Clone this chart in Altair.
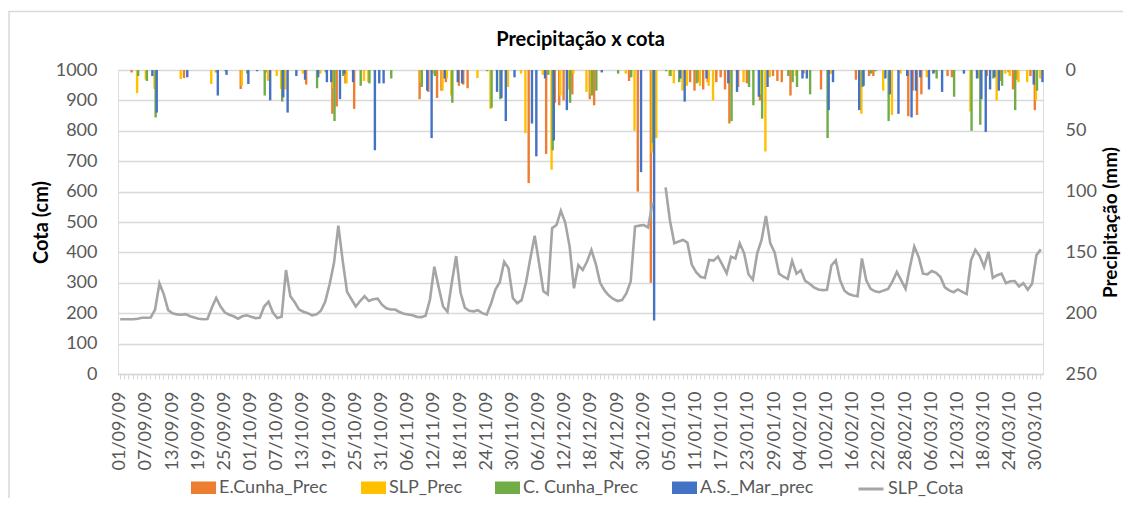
import json
import altair as alt
import pandas as pd

# ---- categories -------------------------------------------------------------
dates = [d.strftime("%d/%m/%y") for d in pd.date_range("2009-09-01", "2010-03-31", freq="D")]
label_dates = dates[::6]

series_names = ["E.Cunha_Prec", "SLP_Prec", "C. Cunha_Prec", "A.S._Mar_prec"]
series_colors = ["#ED7D31", "#FFC000", "#70AD47", "#4472C4"]
line_name = "SLP_Cota"

# ---- precipitation (mm), keyed by day index (0 = 01/09/09); other days 0 ----
e_cunha_prec = {3: 2, 15: 6.6, 28: 15.6, 34: 2, 43: 12, 49: 36, 50: 30, 52: 11, 54: 32,
                69: 24, 71: 18, 73: 23, 74: 17, 75: 10, 78: 13, 79: 12, 80: 15, 94: 93,
                98: 69, 100: 27, 101: 29, 102: 25, 104: 20, 108: 24, 109: 29, 117: 9,
                119: 100, 122: 175, 131: 10, 132: 17, 133: 10, 134: 16, 135: 10, 137: 10,
                138: 6, 139: 16, 140: 44, 142: 14, 144: 11, 147: 25, 150: 5, 151: 9,
                152: 10, 154: 21, 157: 3, 161: 16, 163: 3, 169: 8, 172: 5, 173: 5,
                181: 38, 182: 17, 183: 37, 184: 20, 187: 2, 190: 5, 191: 6, 199: 5,
                202: 9, 204: 2, 205: 16, 206: 8, 209: 5, 210: 33}
slp_prec = {4: 19, 6: 8, 8: 15.6, 14: 7.4, 21: 11.5, 22: 2, 28: 13, 34: 9, 36: 5, 37: 15.6,
            38: 16, 42: 3, 46: 3, 49: 15, 52: 11, 56: 9, 57: 10, 69: 10, 72: 3, 74: 17,
            75: 7, 76: 21, 82: 6.6, 85: 32, 89: 14, 92: 3, 93: 52, 97: 4, 99: 82, 101: 21,
            103: 16, 104: 3, 107: 18, 108: 20, 116: 3, 118: 50, 122: 68, 123: 56, 126: 5,
            127: 11, 129: 17, 130: 13, 133: 13, 135: 13, 136: 25, 143: 10, 147: 20,
            148: 67, 149: 6, 155: 5, 163: 3, 170: 36, 175: 17, 177: 37, 179: 3, 185: 6,
            195: 34, 197: 7, 201: 25, 203: 3, 204: 5, 206: 10, 208: 10, 210: 25, 211: 7}
c_cunha_prec = {4: 5, 6: 9, 8: 39, 22: 2, 24: 1, 29: 3, 33: 21, 37: 26, 45: 15, 47: 2,
                49: 42, 51: 5, 55: 13, 57: 11, 62: 7, 69: 14, 72: 5, 76: 27, 84: 1, 85: 31,
                87: 24, 98: 4, 99: 66, 103: 27, 108: 21, 109: 17, 114: 3, 117: 6, 122: 60,
                125: 1, 126: 5, 128: 10, 132: 11, 140: 42, 144: 14, 145: 29, 147: 40,
                153: 5, 154: 10, 155: 14, 158: 20, 162: 56, 170: 14, 172: 3, 173: 1,
                176: 42, 187: 7, 191: 22, 195: 50, 197: 45, 200: 7, 202: 13, 205: 33,
                210: 17}
as_mar_prec = {7: 5, 8: 35, 15: 6, 22: 21, 24: 4, 29: 11.5, 31: 1, 34: 25, 37: 22.5, 38: 35,
               40: 5, 42: 8, 45: 6, 47: 10, 48: 10, 50: 24, 51: 3, 53: 10, 58: 66, 59: 11,
               60: 11, 70: 17, 71: 56, 74: 7, 77: 10, 78: 11, 86: 18, 87: 23, 88: 42,
               90: 6, 94: 44, 95: 71, 97: 7, 99: 58, 102: 33, 110: 2, 119: 84, 122: 206,
               128: 7, 129: 26, 134: 7, 139: 11, 141: 18, 146: 22, 148: 14, 156: 7,
               157: 7, 162: 33, 163: 10, 169: 33, 170: 13, 175: 7, 176: 20, 178: 36,
               180: 5, 181: 39, 182: 17, 183: 6, 185: 16, 186: 3, 188: 18, 193: 3,
               196: 7, 197: 24, 198: 51, 199: 16, 200: 6, 201: 17, 209: 12, 211: 10}

# ---- SLP level (cm), one value per day; None = no reading ---------------------
slp_cota = [
    180, 180, 180, 180, 182, 185, 185, 186, 212, 298,
    262, 210, 200, 196, 195, 197, 190, 186, 182, 180,
    181, 218, 250, 222, 202, 195, 190, 182, 190, 193,
    188, 184, 185, 222, 238, 202, 184, 188, 342, 256,
    236, 212, 205, 200, 193, 196, 208, 238, 295, 365,
    488, 372, 270, 246, 222, 240, 256, 240, 246, 248,
    228, 216, 212, 212, 204, 198, 196, 193, 188, 187,
    192, 245, 353, 285, 222, 205, 300, 388, 268, 218,
    208, 206, 210, 200, 195, 232, 278, 302, 369, 348,
    250, 233, 243, 300, 380, 455, 365, 272, 262, 480,
    490, 537, 498, 420, 282, 358, 342, 370, 408, 362,
    300, 275, 258, 247, 240, 243, 265, 304, 485, 488,
    490, 482, 563, None, None, 614, 505, 430, 436, 441,
    432, 360, 335, 320, 316, 375, 373, 386, 360, 331,
    386, 380, 430, 397, 328, 310, 397, 441, 520, 430,
    400, 330, 320, 313, 372, 330, 341, 306, 297, 285,
    278, 276, 277, 357, 374, 308, 274, 263, 258, 256,
    380, 308, 280, 272, 269, 275, 280, 305, 336, 308,
    280, 352, 419, 385, 330, 328, 339, 333, 319, 285,
    275, 269, 278, 270, 263, 374, 408, 388, 352, 402,
    316, 325, 330, 299, 305, 306, 288, 299, 277, 297,
    391, 410,
]

# ---- tables ----------------------------------------------------------------
rows = []
for name, vals in zip(series_names, [e_cunha_prec, slp_prec, c_cunha_prec, as_mar_prec]):
    for day, v in sorted(vals.items()):
        rows.append({"date": dates[day], "series": name, "prec": v})
bar_df = pd.DataFrame(rows)
line_df = pd.DataFrame({"date": dates, "cota": slp_cota, "serie": line_name})

FONT = "Lato"
GRAY_TXT = "#595959"
GRID = "#D9D9D9"

label_expr = "indexof(" + json.dumps(label_dates) + ", datum.value) >= 0 ? datum.value : ''"
x_axis = alt.Axis(title=None, labelAngle=270, labelAlign="right", labelBaseline="middle",
                  labelExpr=label_expr, labelOverlap=False, labelPadding=12, labelFontSize=18,
                  labelColor=GRAY_TXT, labelFont=FONT, tickSize=5, tickColor=GRID,
                  domainColor=GRID, domainWidth=1.3, grid=False)
x_enc = alt.X("date:N", sort=dates,
              scale=alt.Scale(domain=dates, paddingInner=0, paddingOuter=0),
              axis=x_axis)

# chart-area frame (decoration only, like the spreadsheet's chart border)
frame = alt.Chart(pd.DataFrame({"k": [0]})).mark_rect(
    fill=None, stroke=GRID, strokeWidth=1.5
).encode(x=alt.value(-109), x2=alt.value(1200), y=alt.value(-58.5), y2=alt.value(600))

bars = alt.Chart(bar_df).mark_bar(width=2.4).encode(
    x=x_enc,
    xOffset=alt.XOffset("series:N", sort=series_names,
                        scale=alt.Scale(domain=series_names, paddingInner=0, paddingOuter=0)),
    y=alt.Y("prec:Q", scale=alt.Scale(domain=[0, 250], reverse=True),
            axis=alt.Axis(orient="right", values=[0, 50, 100, 150, 200, 250], format="d",
                          title="Precipitação (mm)", titleAngle=270, titleBaseline="top",
                          titleFontSize=19, titleFontWeight="bold", titleColor="black",
                          titleFont=FONT, titlePadding=5, labelFontSize=18,
                          labelColor=GRAY_TXT, labelFont=FONT, labelPadding=22,
                          ticks=False, domain=False, grid=False)),
    color=alt.Color("series:N", scale=alt.Scale(domain=series_names, range=series_colors),
                    legend=alt.Legend(title=None, orient="none", legendX=73, legendY=405,
                                      direction="horizontal", symbolType="M-1,-0.5H1V0.5H-1Z",
                                      symbolSize=625, symbolStrokeWidth=0, labelFontSize=18,
                                      labelColor=GRAY_TXT, labelFont=FONT, labelOffset=3,
                                      columnPadding=33)),
)

line = alt.Chart(line_df).mark_line(strokeWidth=2.6, invalid="break-paths-filter-domains").encode(
    x=x_enc,
    y=alt.Y("cota:Q", scale=alt.Scale(domain=[0, 1000]),
            axis=alt.Axis(orient="left", values=list(range(0, 1001, 100)), format="d",
                          title="Cota (cm)", titleFontSize=20, titleFontWeight="bold",
                          titleColor="black", titleFont=FONT, titlePadding=4,
                          labelFontSize=18, labelColor=GRAY_TXT, labelFont=FONT,
                          labelPadding=21, ticks=False, domain=False, grid=True,
                          gridColor=GRID, gridWidth=1.3)),
    stroke=alt.Stroke("serie:N", scale=alt.Scale(domain=[line_name], range=["#A5A5A5"]),
                      legend=alt.Legend(title=None, orient="none", legendX=739, legendY=405,
                                        symbolType="stroke", symbolSize=625,
                                        symbolStrokeWidth=3, labelFontSize=18,
                                        labelColor=GRAY_TXT, labelFont=FONT, labelOffset=3)),
)

chart = alt.layer(frame, bars, line).resolve_scale(y="independent").properties(
    width=925,
    height=304,
    autosize=alt.AutoSizeParams(type="none"),
    padding={"left": 110, "top": 62, "right": 80, "bottom": 124},
    title=alt.Title("Precipitação x cota", fontSize=20, font=FONT, fontWeight="bold",
                    color="black", anchor="middle", offset=-39),
).configure_view(stroke=None).configure(font=FONT)

chart.save("out.html", embed_options={"renderer": "svg", "actions": False})
